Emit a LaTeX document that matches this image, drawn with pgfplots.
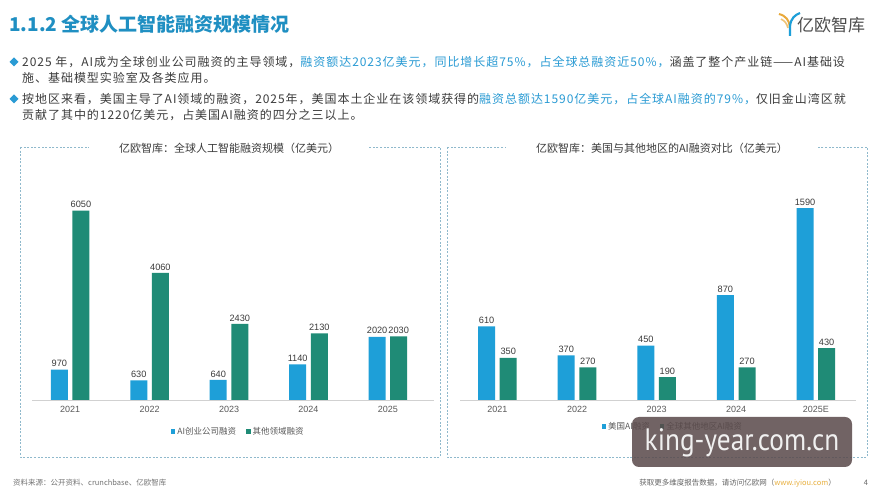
\documentclass[border=0pt]{standalone}
\usepackage{pgfplots}
\pgfplotsset{compat=1.18}
\usepackage{fontspec}
\setmainfont{Noto Sans CJK SC}
\newfontfamily\bodyfont[LetterSpace=8]{Noto Sans CJK SC}
\newfontfamily\numfont{Liberation Sans}
\newfontfamily\wmfont{PT Sans}
\definecolor{barblue}{HTML}{1E9FD8}
\definecolor{bargreen}{HTML}{1F8B76}
\definecolor{titleblue}{HTML}{1F8FC2}
\definecolor{hl}{HTML}{2A9BD4}
\definecolor{txt}{HTML}{3C3C3C}
\definecolor{dashc}{HTML}{8FB9CC}
\definecolor{wmgray}{HTML}{5A4A4B}
\definecolor{urlc}{HTML}{E8B040}
\definecolor{logoorange}{HTML}{E9A93A}
\pgfplotsset{
  sqlegend/.style={legend image code/.code={\draw[##1,/tikz/.cd,draw=none] (0pt,-2pt) rectangle (4.5pt,2.5pt);}},
  panel/.style={
    scale only axis,
    ymin=0, axis y line=none, axis x line=bottom,
    x axis line style={-, draw=black!18, line width=0.9pt},
    xtick={0,1,2,3,4}, major tick length=0pt, xtick style={draw=none},
    ytick=\empty,
    ybar=4.6pt, bar width=17pt,
    tick label style={font=\numfont\fontsize{9}{10}\selectfont, text=black!65},
    xticklabel style={yshift=-3pt},
    nodes near coords={\pgfmathprintnumber[1000 sep={},assume math mode=true]{\pgfplotspointmeta}},
    every node near coord/.append style={font=\numfont\fontsize{9.2}{11}\selectfont, text=txt, inner sep=2.5pt},
    legend columns=2,
    legend style={draw=none, fill=none, font=\fontsize{8.5}{10}\selectfont, text=black!65,
      /tikz/every even column/.append style={column sep=8pt}},
    clip=false,
  }
}
\begin{document}
\begin{tikzpicture}[x=1pt,y=1pt]
\path[use as bounding box] (0pt,0pt) rectangle (889pt,500pt);
\fill[white] (0pt,0pt) rectangle (889pt,500pt);
% title
\node[anchor=west, inner sep=0, text=titleblue, font=\fontsize{19}{21}\selectfont\bfseries] at (9pt,476pt) {1.1.2 全球人工智能融资规模情况};
% logo
\draw[logoorange, line width=2pt] (779pt,486pt) .. controls (786pt,484pt) and (789pt,480pt) .. (790pt,473pt);
\draw[logoorange!70!white, line width=1.6pt] (781pt,481pt) .. controls (785pt,479pt) and (787pt,476pt) .. (788pt,472pt);
\draw[barblue, line width=2.2pt] (790pt,464pt) -- (790pt,474pt) .. controls (791pt,482pt) and (795pt,485pt) .. (800pt,487pt);
\node[anchor=west, inner sep=0, text=black!70, font=\fontsize{17}{19}\selectfont] at (797pt,475pt) {亿欧智库};
% bullets
\fill[hl] (9.5pt,438pt) -- (14pt,442.5pt) -- (18.5pt,438pt) -- (14pt,433.5pt) -- cycle;
\fill[hl] (9.5pt,401pt) -- (14pt,405.5pt) -- (18.5pt,401pt) -- (14pt,396.5pt) -- cycle;
\begin{scope}[every node/.style={anchor=west, inner sep=0, text=txt, font=\bodyfont\fontsize{12}{13}\selectfont}]
\node at (22pt,438pt) {2025 年，AI成为全球创业公司融资的主导领域，\textcolor{hl}{融资额达2023亿美元，同比增长超75\%，占全球总融资近50\%，}涵盖了整个产业链——AI基础设};
\node at (22pt,422pt) {施、基础模型实验室及各类应用。};
\node at (22pt,401pt) {按地区来看，美国主导了AI领域的融资，2025年，美国本土企业在该领域获得的\textcolor{hl}{融资总额达1590亿美元，占全球AI融资的79\%，}仅旧金山湾区就};
\node at (22pt,385pt) {贡献了其中的1220亿美元，占美国AI融资的四分之三以上。};
\end{scope}
% panels
\draw[dashc, dash pattern=on 2pt off 1.6pt, line width=0.6pt] (20pt,353pt) rectangle (440pt,43pt);
\draw[dashc, dash pattern=on 2pt off 1.6pt, line width=0.6pt] (447pt,353pt) rectangle (867pt,43pt);
\node[fill=white, inner xsep=30pt, inner ysep=2pt, text=txt, font=\fontsize{11}{12}\selectfont] at (229pt,352pt) {亿欧智库：全球人工智能融资规模（亿美元）};
\node[fill=white, inner xsep=30pt, inner ysep=2pt, text=txt, font=\fontsize{11}{12}\selectfont] at (662pt,352pt) {亿欧智库：美国与其他地区的AI融资对比（亿美元）};
% left chart
\begin{axis}[panel, at={(32pt,100pt)}, anchor=south west, width=402pt, height=230pt,
  xmin=-0.48, xmax=4.58, ymax=7350,
  xticklabels={2021,2022,2023,2024,2025},
  legend style={at={(0.513,-0.139)}, anchor=center}]
\addplot[fill=barblue, draw=none, sqlegend] coordinates {(0,970) (1,630) (2,640) (3,1140) (4,2020)};
\addplot[fill=bargreen, draw=none, sqlegend] coordinates {(0,6050) (1,4060) (2,2430) (3,2130) (4,2030)};
\legend{AI创业公司融资, 其他领域融资}
\end{axis}
% right chart
\begin{axis}[panel, at={(460pt,100pt)}, anchor=south west, width=395.6pt, height=230pt,
  xmin=-0.47, xmax=4.5, ymax=1907,
  xticklabels={2021,2022,2023,2024,2025E},
  legend style={at={(0.538,-0.117)}, anchor=center}]
\addplot[fill=barblue, draw=none, sqlegend] coordinates {(0,610) (1,370) (2,450) (3,870) (4,1590)};
\addplot[fill=bargreen, draw=none, sqlegend] coordinates {(0,350) (1,270) (2,190) (3,270) (4,430)};
\legend{美国AI融资, 全球其他地区AI融资}
\end{axis}
% watermark box
\fill[wmgray, opacity=0.86, rounded corners=7pt] (632pt,83pt) rectangle (852pt,33pt);
\node[text=white!94!black, font=\wmfont\fontsize{31}{32}\selectfont, inner sep=0, xscale=0.88] at (742pt,57pt) {king-year.com.cn};
% footer
\node[anchor=west, inner sep=0, text=black!55, font=\fontsize{7.5}{9}\selectfont] at (13pt,17pt) {资料来源：公开资料、crunchbase、亿欧智库};
\node[anchor=east, inner sep=0, text=black!60, font=\fontsize{7.5}{9}\selectfont] at (836pt,17pt) {获取更多维度报告数据，请访问亿欧网（\textcolor{urlc}{www.iyiou.com}）};
\node[anchor=center, inner sep=0, text=black!60, font=\fontsize{7.5}{9}\selectfont] at (866pt,17pt) {4};
\end{tikzpicture}
\end{document}
